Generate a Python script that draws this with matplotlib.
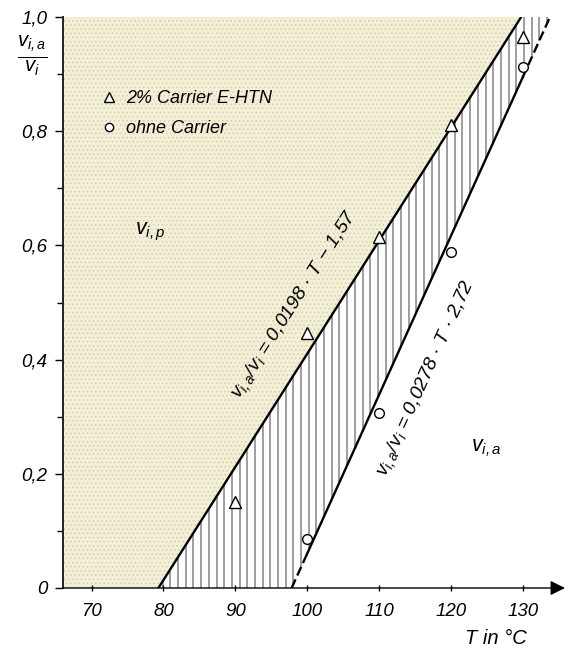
import numpy as np
import matplotlib
matplotlib.use("Agg")
import matplotlib.pyplot as plt

# ---------------- data ----------------
T_carrier = [90, 100, 110, 120, 130]
v_carrier = [0.151, 0.446, 0.614, 0.81, 0.965]
T_ohne = [100, 110, 120, 130]
v_ohne = [0.086, 0.307, 0.588, 0.913]

# regression lines  v = a*T + b
a_up, b_up = 0.0198, -1.57      # 2% Carrier E-HTN
a_lo, b_lo = 0.0278, -2.72      # ohne Carrier
T_lo_solid = [100, 130]         # measured range of the lower line (solid part)

y_ticks = [0, 0.2, 0.4, 0.6, 0.8, 1.0]
y_ticklabels = ["0", "0,2", "0,4", "0,6", "0,8", "1,0"]
x_ticks = [70, 80, 90, 100, 110, 120, 130]
x_ticklabels = ["70", "80", "90", "100", "110", "120", "130"]

label_up = r"$v_{i,a}/v_i$ = 0,0198 · T − 1,57"
label_lo = r"$v_{i,a}/v_i$ = 0,0278 · T · 2,72"
legend_labels = ["2% Carrier E-HTN", "ohne Carrier"]

# ---------------- style ----------------
plt.rcParams["font.family"] = ["Liberation Sans", "DejaVu Sans"]
plt.rcParams["font.style"] = "italic"
plt.rcParams["mathtext.fontset"] = "custom"
plt.rcParams["mathtext.rm"] = "Liberation Sans:italic"
plt.rcParams["mathtext.it"] = "Liberation Sans:italic"
plt.rcParams["hatch.linewidth"] = 0.6

XMIN, XMAX = 65.97, 135.9
fig = plt.figure(figsize=(5.65, 6.49), dpi=100)
ax = fig.add_axes([62.7 / 565, 61 / 649, 1 - 62.7 / 565, 571 / 649])
ax.set_xlim(XMIN, XMAX)
ax.set_ylim(0, 1.0)

# stippled region left of the upper line
yy = np.linspace(0, 1, 200)
T_up_y = (yy - b_up) / a_up
ax.fill_betweenx(yy, XMIN, T_up_y, facecolor="#f3f0d7", edgecolor="none", zorder=0)
ax.fill_betweenx(yy, XMIN, T_up_y, facecolor="none", edgecolor="#d6cfae",
                 hatch="....", linewidth=0, zorder=0.5)

# vertical hatching between the two lines
T0_up = -b_up / a_up
T1_lo = (1 - b_lo) / a_lo
Th = np.arange(T0_up + 0.6, T1_lo, 1.07)
top = np.minimum(a_up * Th + b_up, 1.0)
bot = np.maximum(a_lo * Th + b_lo, 0.0)
ok = top > bot
ax.vlines(Th[ok], bot[ok], top[ok], colors="#9e9e9e", linewidth=1.4, zorder=1)

# upper line
T_up_line = np.array([T0_up, (1 - b_up) / a_up])
ax.plot(T_up_line, a_up * T_up_line + b_up, color="black", lw=1.7, zorder=3)

# lower line: solid in measured range, dashed extrapolation
T0_lo = -b_lo / a_lo
Ts = np.array(T_lo_solid, dtype=float)
ax.plot(Ts, a_lo * Ts + b_lo, color="black", lw=1.7, zorder=3)
for seg in ([T0_lo, T_lo_solid[0]], [T_lo_solid[1], T1_lo]):
    s = np.array(seg)
    ax.plot(s, a_lo * s + b_lo, color="black", lw=1.7, ls=(0, (4, 1.8)), zorder=3)

# data points
h1, = ax.plot(T_carrier, v_carrier, ls="none", marker="^", ms=8, mfc="white",
              mec="black", mew=1.0, zorder=4)
h2, = ax.plot(T_ohne, v_ohne, ls="none", marker="o", ms=7, mfc="white",
              mec="black", mew=1.0, zorder=4)

leg = ax.legend([h1, h2], legend_labels, loc="upper left",
                bbox_to_anchor=(0.05, 0.9), frameon=False, fontsize=13,
                handlelength=0.6, handletextpad=0.6, labelspacing=0.7,
                markerscale=0.85)

# region labels
ax.text(78.1, 0.623, r"$v_{i,p}$", fontsize=15.5, ha="center", va="center")
ax.text(124.9, 0.245, r"$v_{i,a}$", fontsize=15.5, ha="center", va="center")

# line labels
ax.text(98.2, 0.496, label_up, fontsize=14, rotation=57.5,
        ha="center", va="center", rotation_mode="anchor")
ax.text(116.6, 0.368, label_lo, fontsize=14, rotation=65.6,
        ha="center", va="center", rotation_mode="anchor")

# axes styling
for s in ["top", "right", "bottom"]:
    ax.spines[s].set_visible(False)
ax.spines["left"].set_linewidth(1.4)
ax.spines["left"].set_color("#222222")
ax.annotate("", xy=(1.0, 0), xytext=(0, 0), xycoords="axes fraction",
            arrowprops=dict(arrowstyle="-|>", color="black", lw=1.0,
                            mutation_scale=22, shrinkA=0, shrinkB=0),
            annotation_clip=False, zorder=5)

ax.set_yticks(y_ticks)
ax.set_yticklabels(y_ticklabels)
ax.set_yticks([0.1, 0.3, 0.5, 0.7, 0.9], minor=True)
ax.set_xticks(x_ticks)
ax.set_xticklabels(x_ticklabels)
ax.tick_params(axis="y", which="major", length=6, width=1.0, pad=5, labelsize=13.5)
ax.tick_params(axis="y", which="minor", length=4, width=1.0)
ax.tick_params(axis="x", which="major", length=4, width=1.0, pad=9, labelsize=13.5,
               direction="inout")

ax.text(0.863, -0.0876, "T in °C", transform=ax.transAxes, fontsize=14.5,
        ha="center", va="center")
fig.text(32 / 565, 1 - 56 / 649, r"$\frac{v_{i,a}}{v_i}$", fontsize=21,
         ha="center", va="center")

fig.savefig("out.png", dpi=100)
